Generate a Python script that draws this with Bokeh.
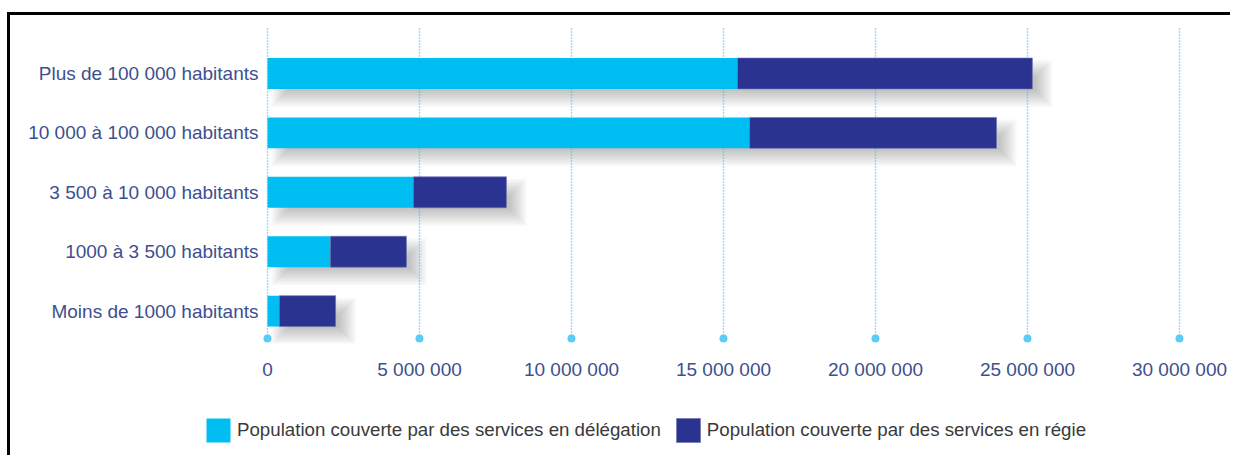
from bokeh.plotting import figure
from bokeh.layouts import column
from bokeh.models import Range1d, FixedTicker, Legend, LegendItem, ColumnDataSource
from bokeh.embed import file_html
from bokeh.resources import INLINE

categories = ["Moins de 1000 habitants", "1000 à 3 500 habitants",
              "3 500 à 10 000 habitants", "10 000 à 100 000 habitants",
              "Plus de 100 000 habitants"]
delegation = [390000, 2070000, 4800000, 15860000, 15460000]
regie = [1850000, 2500000, 3060000, 8120000, 9700000]
tick_values = [0, 5000000, 10000000, 15000000, 20000000, 25000000, 30000000]
tick_labels = ["0", "5 000 000", "10 000 000", "15 000 000", "20 000 000",
               "25 000 000", "30 000 000"]
series_names = ["Population couverte par des services en délégation",
                "Population couverte par des services en régie"]

LIGHT = "#00bef2"
DARK = "#2b3390"
TXT = "#3d4f8f"
GRID = "#2fbff5"
FONT = "Liberation Sans"

W = 1220
FL, FT = 252, 12
H1 = 388
FB = H1 - 328
frame_w = W - FL
frame_h = H1 - FT - FB
px = 30.4e-6  # pixels per unit on x
x_start = -5 / px
x_end = x_start + frame_w / px
y_start, y_end = -0.545, 4.774
sx = (x_end - x_start) / frame_w
sy = (y_end - y_start) / frame_h

ys = list(range(len(categories)))
totals = [d + r for d, r in zip(delegation, regie)]
bh = 0.52

p = figure(width=W, height=H1, x_range=Range1d(x_start, x_end),
           y_range=Range1d(y_start, y_end), output_backend="svg",
           toolbar_location=None, min_border_left=FL, min_border_right=0,
           min_border_top=FT, min_border_bottom=FB)
p.outline_line_color = None
p.grid.visible = False

# soft shadows
for s in range(-8, 9, 2):
    p.quad(left=[(12 - s) * sx] * len(ys),
           right=[t + (12 + s) * sx for t in totals],
           top=[y + bh / 2 - (10 - s) * sy for y in ys],
           bottom=[y - bh / 2 - (10 + s) * sy for y in ys],
           fill_color="black", fill_alpha=0.028, line_color=None)

# dotted grid lines ending in dots
dot_y = 4 - 265 / 59.41
p.segment(x0=tick_values, y0=[dot_y] * len(tick_values), x1=tick_values,
          y1=[y_end] * len(tick_values), line_color=GRID, line_width=1.4,
          line_dash="1 2")
p.scatter(x=tick_values, y=[dot_y] * len(tick_values), size=8,
          fill_color="#5fcaf3", line_color=None)

src = ColumnDataSource(dict(y=ys, d=delegation, t=totals))
p.hbar(y="y", left=0, right="d", height=bh, source=src,
       fill_color=LIGHT, line_color=None)
p.hbar(y="y", left="d", right="t", height=bh, source=src,
       fill_color=DARK, line_color="#6b70b0", line_width=0.6)

for ax in (p.xaxis, p.yaxis):
    ax.axis_line_color = None
    ax.major_tick_line_color = None
    ax.minor_tick_line_color = None
    ax.major_tick_out = 0
    ax.major_tick_in = 0
    ax.minor_tick_out = 0
    ax.major_label_text_font = FONT
    ax.major_label_text_font_size = "19px"
    ax.major_label_text_color = TXT

p.yaxis.ticker = FixedTicker(ticks=ys)
p.yaxis.major_label_overrides = {y: c for y, c in zip(ys, categories)}
p.yaxis.major_label_standoff = 4
p.xaxis.ticker = FixedTicker(ticks=tick_values)
p.xaxis.major_label_overrides = {v: l for v, l in zip(tick_values, tick_labels)}
p.xaxis.major_label_standoff = 15

# legend strip
H2 = 52
p2 = figure(width=W, height=H2, x_range=Range1d(0, 1), y_range=Range1d(0, 1),
            output_backend="svg", toolbar_location=None, min_border=0,
            min_border_left=0, min_border_right=0, min_border_top=0,
            min_border_bottom=0,
            x_axis_location=None, y_axis_location=None)
p2.frame_align = False
p2.outline_line_color = None
p2.grid.visible = False
l1 = p2.hbar(y=[5], left=[5], right=[6], height=1, fill_color=LIGHT,
             line_color=None)
l2 = p2.hbar(y=[5], left=[5], right=[6], height=1, fill_color=DARK,
             line_color="#6b70b0", line_width=0.6)
legend = Legend(items=[LegendItem(label=series_names[0], renderers=[l1]),
                       LegendItem(label=series_names[1], renderers=[l2])],
                location=(193, 10), orientation="horizontal",
                glyph_width=30, glyph_height=30, label_standoff=4, spacing=12,
                padding=0, margin=0, border_line_color=None,
                background_fill_alpha=0, label_text_font=FONT,
                label_text_font_size="18.7px", label_text_color="#3a3a3a")
p2.add_layout(legend)

layout = column(p, p2, spacing=0)
layout.styles = {"margin-left": "7px", "margin-top": "12px",
                 "border-top": "3px solid #000", "border-left": "3px solid #000"}

open("out.html", "w").write(file_html(layout, INLINE))
